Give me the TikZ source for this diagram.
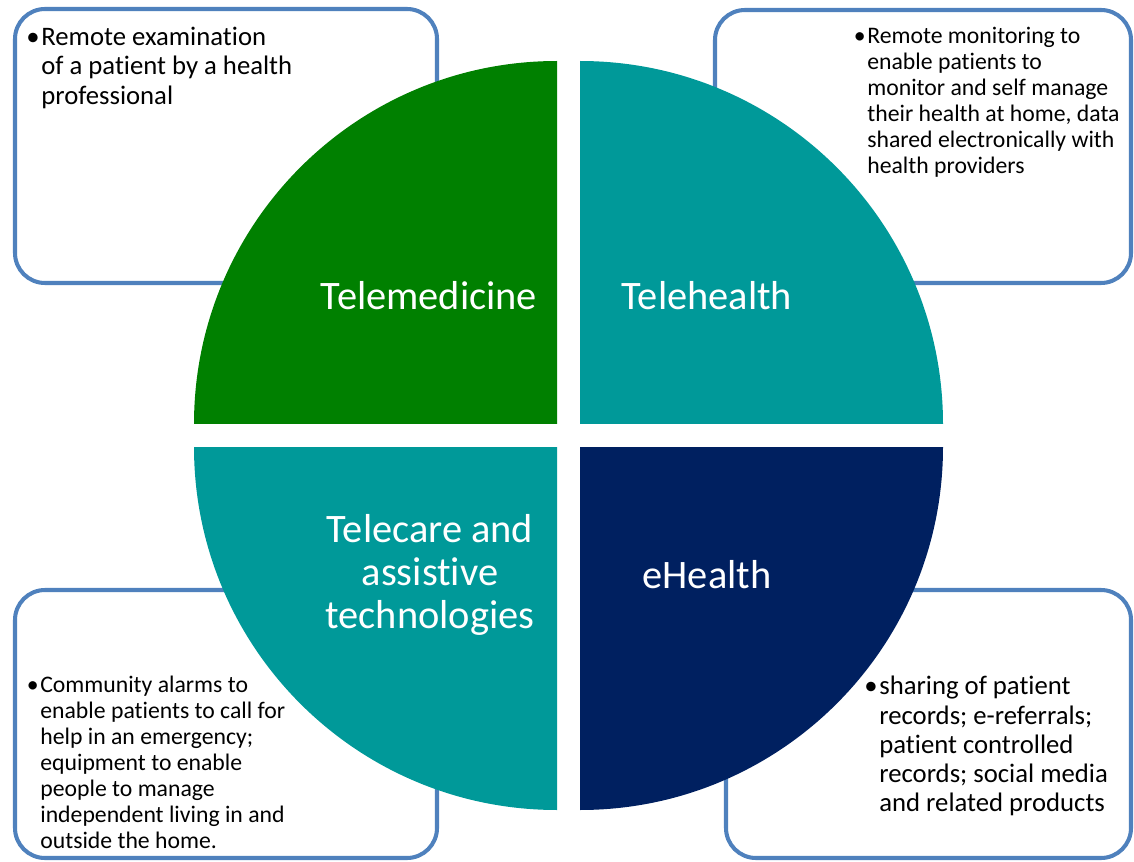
\documentclass[tikz,border=0pt]{standalone}
\usepackage{fontspec}
\setmainfont{Carlito}[Ligatures=CommonOff]
\usepackage{tikz}

\definecolor{medgreen}{RGB}{0,128,0}
\definecolor{teal}{RGB}{0,153,153}
\definecolor{navy}{RGB}{0,32,96}
\definecolor{boxblue}{RGB}{79,129,189}

\begin{document}
\begin{tikzpicture}[
  infobox/.style={draw=boxblue, line width=2.3pt, rounded corners=0.6cm, fill=white},
  quadlabel/.style={text=white, align=center, font=\fontsize{23}{24.7}\selectfont},
  bigtext/.style={anchor=north west, inner sep=0, align=left, font=\fontsize{15.2}{16.6}\selectfont},
  smalltext/.style={anchor=north west, inner sep=0, align=left, font=\fontsize{13.5}{14.8}\selectfont}]
\useasboundingbox (0,0) rectangle (22.68,17.22);
\draw[infobox] (0.30,11.56) rectangle (8.74,17.04);
\draw[infobox] (14.30,11.56) rectangle (22.62,17.02);
\draw[infobox] (0.30,0.06) rectangle (8.74,5.42);
\draw[infobox] (14.52,0.06) rectangle (22.62,5.42);
\fill[medgreen] (11.14,8.74) -- ++(-7.26,0) arc[start angle=180, end angle=90, radius=7.26] -- cycle;
\fill[teal] (11.60,8.74) -- ++(0,7.26) arc[start angle=90, end angle=0, radius=7.26] -- cycle;
\fill[teal] (11.14,8.28) -- ++(-7.26,0) arc[start angle=180, end angle=270, radius=7.26] -- cycle;
\fill[navy] (11.60,8.28) -- ++(0,-7.26) arc[start angle=270, end angle=360, radius=7.26] -- cycle;
\node[quadlabel] (telemed) at (8.58,11.30) {Telemedicine};
\node[quadlabel] (telehealth) at (14.14,11.30) {Telehealth};
\node[quadlabel] (telecare) at (8.60,5.72) {Telecare and\\assistive\\technologies};
\node[quadlabel] (ehealth) at (14.14,5.72) {eHealth};
\node[bigtext] (exam) at (0.82,16.68) {\llap{•\hspace{1pt}}Remote examination\\of a patient by a health\\professional};
\node[smalltext] (monitor) at (17.34,16.68) {\llap{•\hspace{1pt}}Remote monitoring to\\enable patients to\\monitor and self manage\\their health at home, data\\shared electronically with\\health providers};
\node[smalltext] (alarms) at (0.80,3.70) {\llap{•\hspace{1pt}}Community alarms to\\enable patients to call for\\help in an emergency;\\equipment to enable\\people to manage\\independent living in and\\outside the home.};
\node[bigtext] (records) at (17.58,3.70) {\llap{•\hspace{1pt}}sharing of patient\\records; e-referrals;\\patient controlled\\records; social media\\and related products};
\end{tikzpicture}
\end{document}
